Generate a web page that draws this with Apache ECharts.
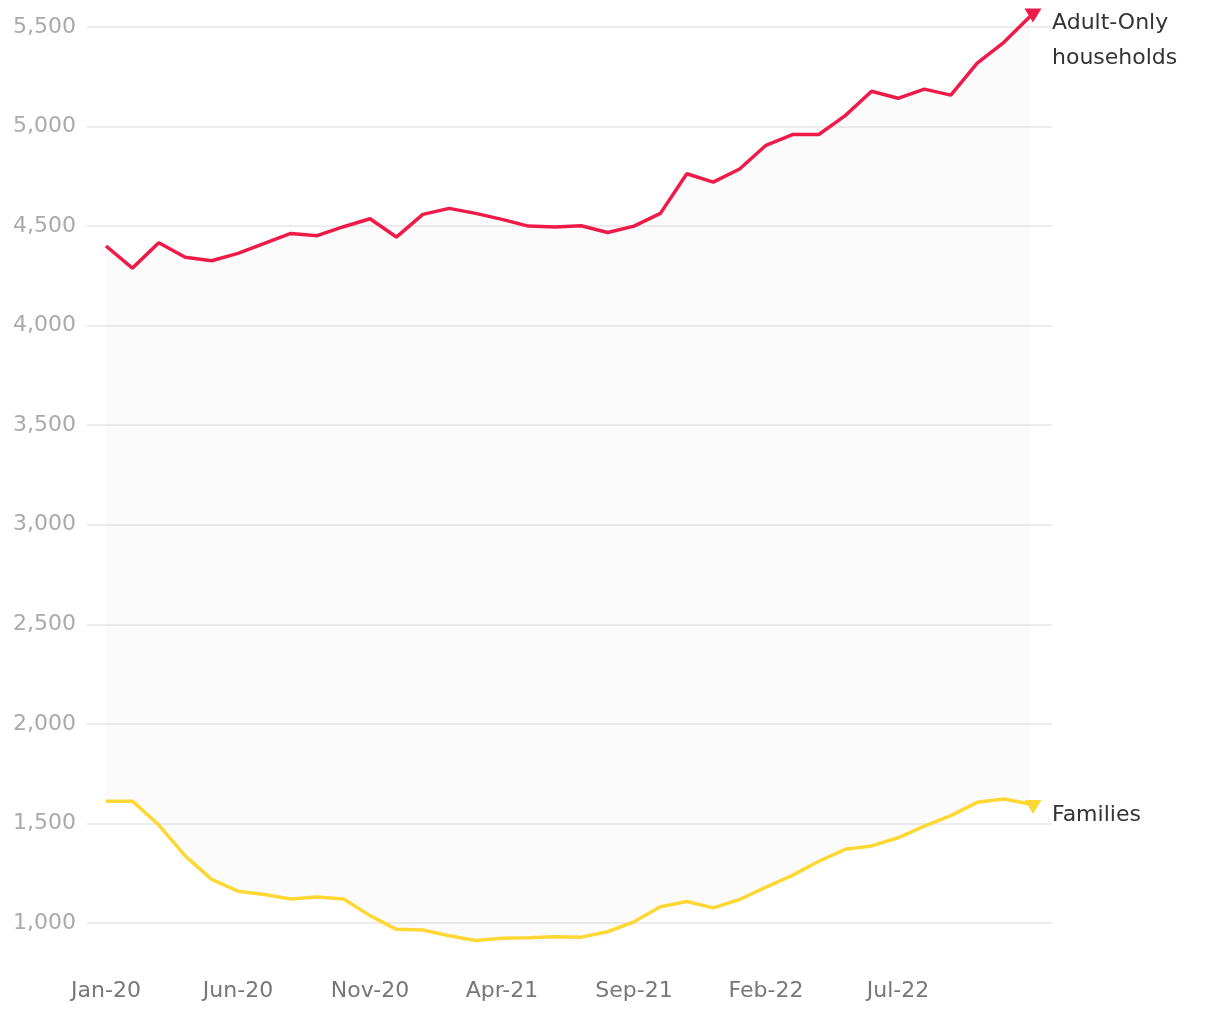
<!DOCTYPE html>
<html>
<head>
<meta charset="utf-8">
<script src="https://cdn.jsdelivr.net/npm/echarts@6/dist/echarts.min.js"></script>
<style>html,body{margin:0;padding:0;background:#fff}#c{width:1220px;height:1020px}</style>
</head>
<body>
<div id="c"></div>
<script>
const months = ['Jan-20','Feb-20','Mar-20','Apr-20','May-20','Jun-20','Jul-20','Aug-20','Sep-20','Oct-20','Nov-20','Dec-20',
  'Jan-21','Feb-21','Mar-21','Apr-21','May-21','Jun-21','Jul-21','Aug-21','Sep-21','Oct-21','Nov-21','Dec-21',
  'Jan-22','Feb-22','Mar-22','Apr-22','May-22','Jun-22','Jul-22','Aug-22','Sep-22','Oct-22','Nov-22','Dec-22'];
const adultOnly = [4400,4289,4416,4344,4326,4363,4413,4463,4452,4497,4537,4445,
  4559,4589,4564,4534,4500,4495,4502,4468,4500,4564,4763,4721,
  4787,4906,4960,4960,5055,5177,5142,5188,5158,5318,5422,5553];
const families = [1612,1612,1492,1337,1219,1160,1143,1121,1130,1120,1037,968,
  965,936,912,924,926,931,929,956,1006,1082,1108,1076,
  1118,1180,1239,1310,1370,1387,1428,1487,1539,1606,1623,1598];
const xLabelEvery = 5;
const yTicks = {min:1000, max:5500, step:500};
const names = {adult:'Adult-Only\nhouseholds', fam:'Families'};

const FONT = '"DejaVu Sans", sans-serif';
const FS = 22;
const RED = '#ee1b49', YEL = '#fdd835';
const last = months.length - 1;

function pts(arr, color, offset){
  return arr.map((v,i)=> i===last ? {value:v, symbol:'triangle', symbolSize:[17,14], symbolRotate:180, symbolOffset:offset, itemStyle:{color:color}} : v);
}

const chart = echarts.init(document.getElementById('c'), null, {renderer:'canvas'});
chart.setOption({
  animation:false,
  grid:[
    {left:87, right:168, top:27, bottom:97, containLabel:false},
    {left:106, right:190, top:27, bottom:97, containLabel:false}
  ],
  xAxis:[
    {type:'value', gridIndex:0, min:0, max:1, show:false},
    {type:'category', gridIndex:1, data:months, boundaryGap:false,
      axisLine:{show:false}, axisTick:{show:false}, splitLine:{show:false},
      axisLabel:{interval:xLabelEvery-1, showMaxLabel:false, color:'#777', fontFamily:FONT, fontSize:FS, margin:57}}
  ],
  yAxis:[
    {type:'value', gridIndex:0, min:yTicks.min, max:yTicks.max, interval:yTicks.step,
      axisLine:{show:false}, axisTick:{show:false},
      splitLine:{lineStyle:{color:'#e6e6e6', width:1.5}},
      axisLabel:{color:'#aaa', fontFamily:FONT, fontSize:FS, margin:11, formatter:v=>v.toLocaleString('en-US')}},
    {type:'value', gridIndex:1, min:yTicks.min, max:yTicks.max, interval:yTicks.step, show:false, splitLine:{show:false}}
  ],
  series:[
    {type:'line', xAxisIndex:1, yAxisIndex:1, stack:'band', data:families, symbol:'none', lineStyle:{opacity:0}, clip:false, silent:true, z:1},
    {type:'line', xAxisIndex:1, yAxisIndex:1, stack:'band', data:adultOnly.map((v,i)=>v-families[i]), symbol:'none', lineStyle:{opacity:0},
      areaStyle:{color:'rgba(0,0,0,0.02)'}, clip:false, silent:true, z:1},
    {type:'line', xAxisIndex:1, yAxisIndex:1, name:'adult', data:pts(adultOnly, RED, [3,-1]), symbol:'none', clip:false, z:3,
      lineStyle:{color:RED, width:3.5}, itemStyle:{color:RED},
      endLabel:{show:true, formatter:names.adult, color:'#333', fontFamily:FONT, fontSize:FS, lineHeight:35, align:'left', verticalAlign:'top', offset:[14,-11]}},
    {type:'line', xAxisIndex:1, yAxisIndex:1, name:'fam', data:pts(families, YEL, [3,3]), symbol:'none', clip:false, z:3,
      lineStyle:{color:YEL, width:3.5}, itemStyle:{color:YEL},
      endLabel:{show:true, formatter:names.fam, color:'#333', fontFamily:FONT, fontSize:FS, align:'left', verticalAlign:'top', offset:[14,0]}}
  ]
});
</script>
</body>
</html>
